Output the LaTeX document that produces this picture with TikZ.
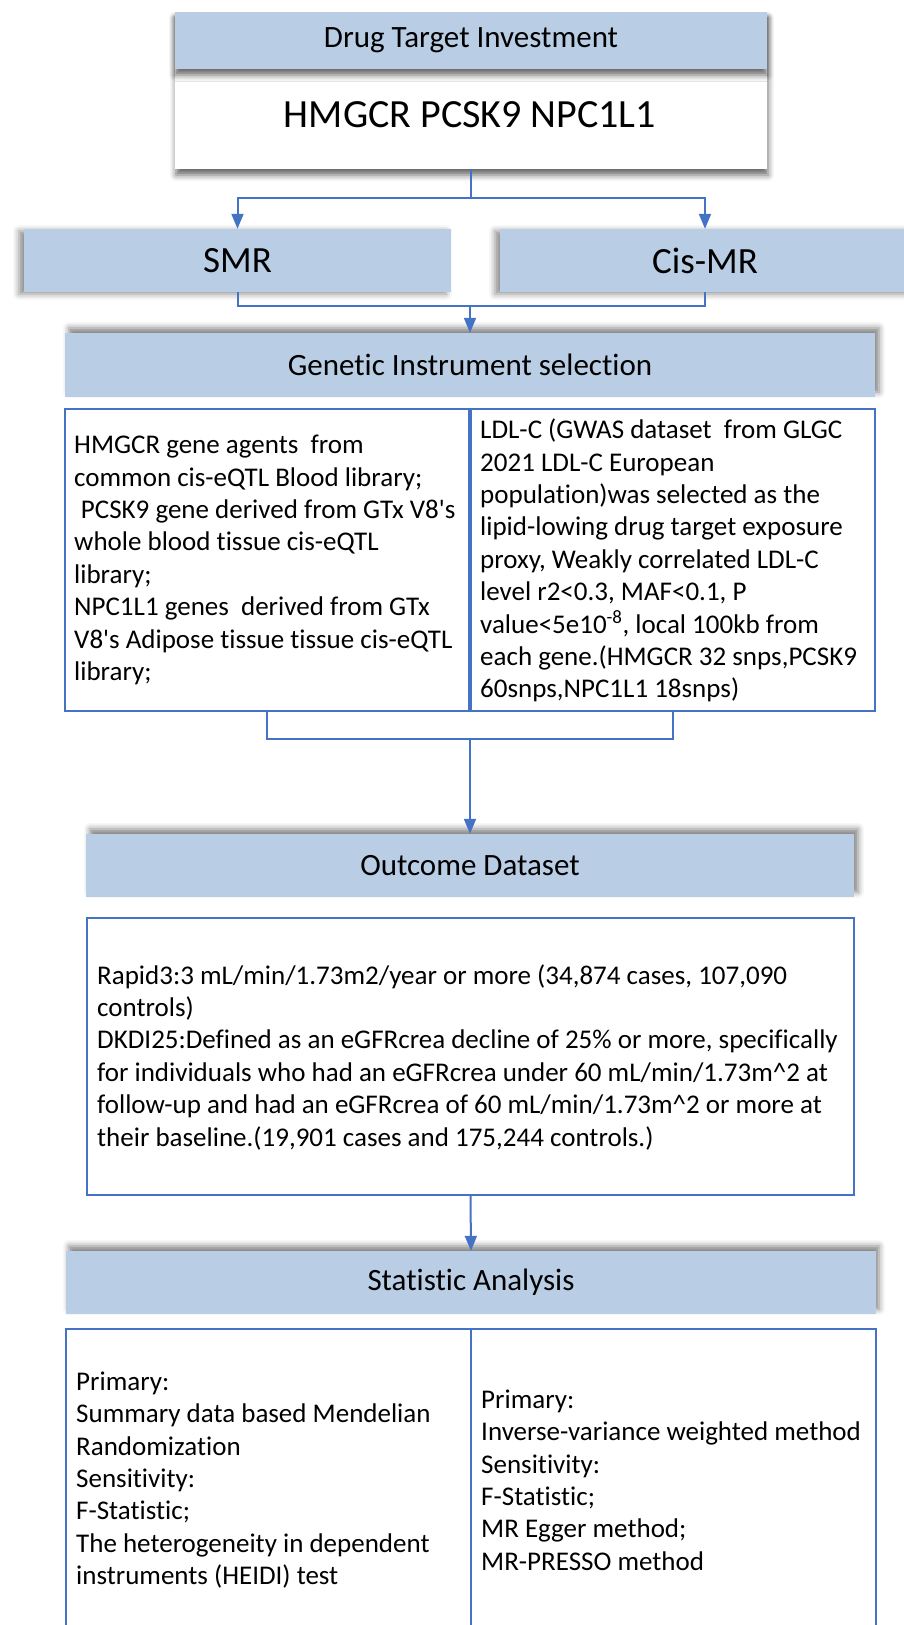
\documentclass[tikz,border=0pt]{standalone}
\usepackage{fontspec}
\setmainfont{Carlito}[Ligatures={NoCommon}]
\usetikzlibrary{arrows.meta,shadows.blur}
\definecolor{hdrblue}{HTML}{B9CDE5}
\definecolor{lineblue}{HTML}{4472C4}
\tikzset{
  hdr/.style={fill=hdrblue, draw=none, inner sep=0pt, font=\fontsize{31}{37}\selectfont},
  cbox/.style={draw=lineblue, line width=2pt, fill=white, inner sep=0pt},
  body/.style={font=\fontsize{27}{32.4}\selectfont, align=left, anchor=west, inner sep=0pt},
  conn/.style={draw=lineblue, line width=2pt},
  arr/.style={conn, -{Triangle[width=12pt,length=15pt]}},
}
\begin{document}
\begin{tikzpicture}[x=1pt,y=-1pt]
\useasboundingbox (0,0) rectangle (904,1625);
\clip (0,0) rectangle (904,1625);
% top block
\node[fill=white, minimum width=592pt, minimum height=157pt, inner sep=0pt,
  blur shadow={shadow xshift=1pt, shadow yshift=-6pt, shadow blur radius=6pt, shadow opacity=60}] (topbox) at (471,90.5) {};
\node[hdr, minimum width=592pt, minimum height=57pt,
  blur shadow={shadow xshift=0pt, shadow yshift=-6pt, shadow blur radius=6pt, shadow opacity=60}] (dti) at (471,40.5) {Drug Target Investment};
\node[font=\fontsize{40}{48}\selectfont, inner sep=0pt] (genes) at (470,115) {HMGCR PCSK9 NPC1L1};
% SMR / Cis-MR
\node[hdr, minimum width=427pt, minimum height=63pt, font=\fontsize{37}{44}\selectfont,
  blur shadow={shadow xshift=-5pt, shadow yshift=-2pt, shadow blur radius=6pt, shadow opacity=45}] (smr) at (237.5,260.5) {SMR};
\node[hdr, minimum width=410pt, minimum height=63pt, font=\fontsize{37}{44}\selectfont,
  blur shadow={shadow xshift=-5pt, shadow yshift=-2pt, shadow blur radius=6pt, shadow opacity=45}] (cis) at (705,260.5) {Cis-MR};
% Genetic instrument
\node[hdr, minimum width=810pt, minimum height=64pt,
  blur shadow={shadow xshift=4pt, shadow yshift=5pt, shadow blur radius=6pt, shadow opacity=50}] (gen) at (470,365) {Genetic Instrument selection};
\node[cbox, minimum width=404pt, minimum height=302pt] (gl) at (267,560) {};
\node[cbox, minimum width=404pt, minimum height=302pt] (gr) at (673,560) {};
\node[body] (gltext) at (74,560) {HMGCR gene agents\ \ from\\
common cis-eQTL Blood library;\\
\hspace*{0.25em}PCSK9 gene derived from GTx V8\textquotesingle s\\
whole blood tissue cis-eQTL\\
library;\\
NPC1L1 genes\ \ derived from GTx\\
V8\textquotesingle s Adipose tissue tissue cis-eQTL\\
library;};
\node[body] (grtext) at (480,560.5) {LDL-C (GWAS dataset\ \ from GLGC\\
2021 LDL-C European\\
population)was selected as the\\
lipid-lowing drug target exposure\\
proxy, Weakly correlated LDL-C\\
level r2<0.3, MAF<0.1, P\\
value<5e10\textsuperscript{-8}, local 100kb from\\
each gene.(HMGCR 32 snps,PCSK9\\
60snps,NPC1L1 18snps)};
% Outcome
\node[hdr, minimum width=768pt, minimum height=63pt,
  blur shadow={shadow xshift=4pt, shadow yshift=5pt, shadow blur radius=6pt, shadow opacity=50}] (out) at (470,865.5) {Outcome Dataset};
\node[cbox, minimum width=767pt, minimum height=277pt] (ob) at (470.5,1056.5) {};
\node[body] (obtext) at (97,1057) {Rapid3:3 mL/min/1.73m2/year or more (34,874 cases, 107,090\\
controls)\\
DKDI25:Defined as an eGFRcrea decline of 25\% or more, specifically\\
for individuals who had an eGFRcrea under 60 mL/min/1.73m\^{}2 at\\
follow-up and had an eGFRcrea of 60 mL/min/1.73m\^{}2 or more at\\
their baseline.(19,901 cases and 175,244 controls.)};
% Statistic
\node[hdr, minimum width=810pt, minimum height=63pt,
  blur shadow={shadow xshift=3pt, shadow yshift=5pt, shadow blur radius=6pt, shadow opacity=50}] (stat) at (471,1282.5) {Statistic Analysis};
\node[cbox, minimum width=405pt, minimum height=302pt] (sl) at (268.5,1480) {};
\node[cbox, minimum width=405pt, minimum height=302pt] (sr) at (673.5,1480) {};
\node[body] (sltext) at (76,1480) {Primary:\\
Summary data based Mendelian\\
Randomization\\
Sensitivity:\\
F-Statistic;\\
The heterogeneity in dependent\\
instruments (HEIDI) test};
\node[body] (srtext) at (481,1480) {Primary:\\
Inverse-variance weighted method\\
Sensitivity:\\
F-Statistic;\\
MR Egger method;\\
MR-PRESSO method};
% connectors
\coordinate (j1) at (471,198);
\draw[conn] (topbox.south) -- (j1);
\draw[arr] (j1) -| (smr.north);
\draw[arr] (j1) -| (cis.north);
\coordinate (j2) at (470,306);
\draw[conn] (smr.south) |- (j2);
\draw[conn] (cis.south) |- (j2);
\draw[arr] (j2) -- (gen.north);
\coordinate (j3) at (470,739);
\draw[conn] (gl.south) |- (j3);
\draw[conn] (gr.south) |- (j3);
\draw[arr] (j3) -- (out.north);
\draw[arr] (ob.south) -- (stat.north);
\end{tikzpicture}
\end{document}
